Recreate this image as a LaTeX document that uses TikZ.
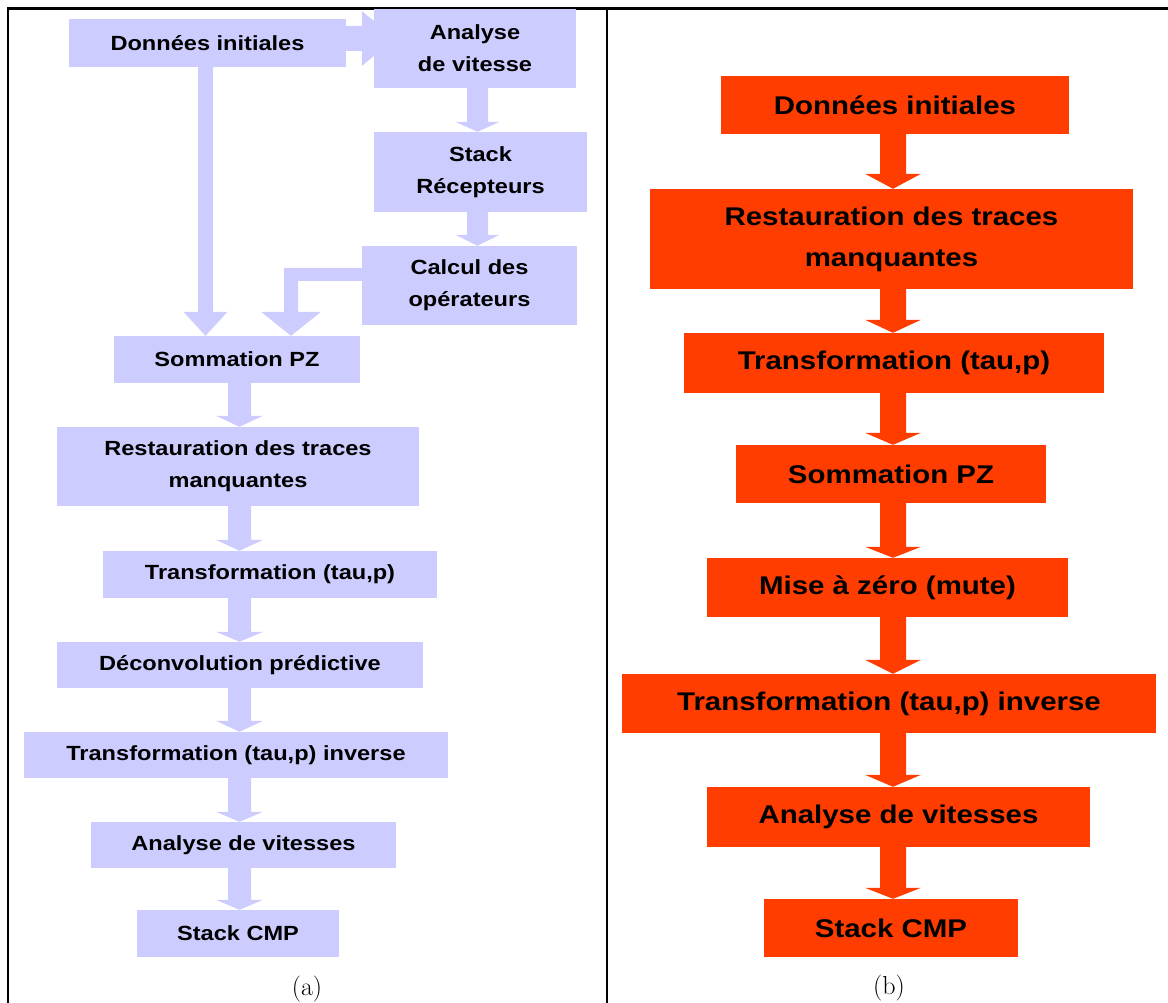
\documentclass[tikz,border=0pt]{standalone}
\usepackage{fontspec}
\newfontfamily\boxfont{Liberation Sans}[FakeStretch=1.15]
\usetikzlibrary{calc,backgrounds}
\definecolor{lav}{HTML}{CCCCFF}
\definecolor{orng}{HTML}{FF3D00}
\newcommand\vblock[7]{%
  \fill[#1] let \p1=(#2.south), \p2=(#3.north) in
   ({#4-#5},\y1) -- ({#4+#5},\y1) -- ({#4+#5},{\y2+#7}) -- ({#4+#6},{\y2+#7})
   -- (#4,\y2) -- ({#4-#6},{\y2+#7}) -- ({#4-#5},{\y2+#7}) -- cycle;}
\begin{document}
\begin{tikzpicture}[x=1pt,y=-1pt,
  boxa/.style={fill=lav, inner sep=0pt, align=center, text=black,
    font=\boxfont\bfseries\fontsize{20.5}{32}\selectfont},
  boxb/.style={fill=orng, inner sep=0pt, align=center, text=black,
    font=\boxfont\bfseries\fontsize{25.6}{41}\selectfont},
  arra/.style={fill=lav},
  arrb/.style={fill=orng},
  frameline/.style={line width=2.5pt, black},
  caption/.style={font=\fontsize{26}{30}\selectfont, anchor=base, inner sep=0pt}]
\useasboundingbox (0,0) rectangle (1168,1003);

% frame
\draw[frameline] (6.75,8.5) -- (1168,8.5);
\draw[frameline] (8,8.5) -- (8,1003);
\draw[line width=2pt] (607,8.5) -- (607,1003);

% ----- panel (a) -----
\node[boxa, minimum width=277pt, minimum height=48pt] (dA) at (207.5,43) {Données initiales};
\node[boxa, minimum width=202pt, minimum height=79pt] (anA) at (475,48.5) {Analyse\\de vitesse};
\node[boxa, minimum width=213pt, minimum height=80pt] (stA) at (480.5,172) {Stack\\Récepteurs};
\node[boxa, minimum width=215pt, minimum height=79pt] (caA) at (469.5,285.5) {Calcul des\\opérateurs};
\node[boxa, minimum width=246pt, minimum height=47pt] (smA) at (237,359.5) {Sommation PZ};
\node[boxa, minimum width=362pt, minimum height=79pt] (reA) at (238,466.5) {Restauration des traces\\manquantes};
\node[boxa, minimum width=334pt, minimum height=47pt] (trA) at (270,574.5) {Transformation (tau,p)};
\node[boxa, minimum width=366pt, minimum height=46pt] (deA) at (240,665) {Déconvolution prédictive};
\node[boxa, minimum width=424pt, minimum height=46pt] (inA) at (236,755) {Transformation (tau,p) inverse};
\node[boxa, minimum width=305pt, minimum height=46pt] (avA) at (243.5,845) {Analyse de vitesses};
\node[boxa, minimum width=202pt, minimum height=47pt] (scA) at (238,933.5) {Stack CMP};
\node[caption] (capA) at (307,995) {(a)};

% ----- panel (b) -----
\node[boxb, minimum width=348pt, minimum height=58pt] (dB) at (895,105) {Données initiales};
\node[boxb, minimum width=483pt, minimum height=100pt] (reB) at (891.5,239) {Restauration des traces\\manquantes};
\node[boxb, minimum width=420pt, minimum height=60pt] (trB) at (894,363) {Transformation (tau,p)};
\node[boxb, minimum width=310pt, minimum height=58pt] (smB) at (891,474) {Sommation PZ};
\node[boxb, minimum width=361pt, minimum height=59pt] (miB) at (887.5,587.5) {Mise à zéro (mute)};
\node[boxb, minimum width=534pt, minimum height=59pt] (inB) at (889,703.5) {Transformation (tau,p) inverse};
\node[boxb, minimum width=383pt, minimum height=60pt] (avB) at (898.5,817) {Analyse de vitesses};
\node[boxb, minimum width=254pt, minimum height=58pt] (scB) at (891,928) {Stack CMP};
\node[caption] (capB) at (889,994) {(b)};

\begin{pgfonlayer}{background}
% panel (a) arrows
\fill[arra] let \p1=(dA.east), \p2=(anA.west) in
  (\x1,26) -- ({\x2-12},26) -- ({\x2-12},11) -- ({\x2+21},38.5)
  -- ({\x2-12},66) -- ({\x2-12},51) -- (\x1,51) -- cycle;
\vblock{arra}{anA}{stA}{477.5}{10.5}{22}{10}
\vblock{arra}{stA}{caA}{477.5}{10.5}{22}{11}
\vblock{arra}{dA}{smA}{205.5}{7.5}{22}{24}
\fill[arra] let \p1=(caA.west), \p2=(smA.north) in
  (\x1,268) -- (284,268) -- (284,{\y2+24}) -- (261,{\y2+24}) -- (291,\y2)
  -- (321,{\y2+24}) -- (298,{\y2+24}) -- (298,281) -- (\x1,281) -- cycle;
\vblock{arra}{smA}{reA}{239.5}{11.5}{23.5}{11}
\vblock{arra}{reA}{trA}{239.5}{11.5}{23.5}{11}
\vblock{arra}{trA}{deA}{239.5}{11.5}{23.5}{10}
\vblock{arra}{deA}{inA}{239.5}{11.5}{23.5}{11}
\vblock{arra}{inA}{avA}{239.5}{11.5}{23.5}{10}
\vblock{arra}{avA}{scA}{239.5}{11.5}{23.5}{10}
% panel (b) arrows
\vblock{arrb}{dB}{reB}{893}{13}{28}{15}
\vblock{arrb}{reB}{trB}{893}{13}{28}{13}
\vblock{arrb}{trB}{smB}{893}{13}{28}{12}
\vblock{arrb}{smB}{miB}{893}{13}{28}{11}
\vblock{arrb}{miB}{inB}{893}{13}{28}{14}
\vblock{arrb}{inB}{avB}{893}{13}{28}{12}
\vblock{arrb}{avB}{scB}{893}{13}{28}{11}
\end{pgfonlayer}
\end{tikzpicture}
\end{document}
